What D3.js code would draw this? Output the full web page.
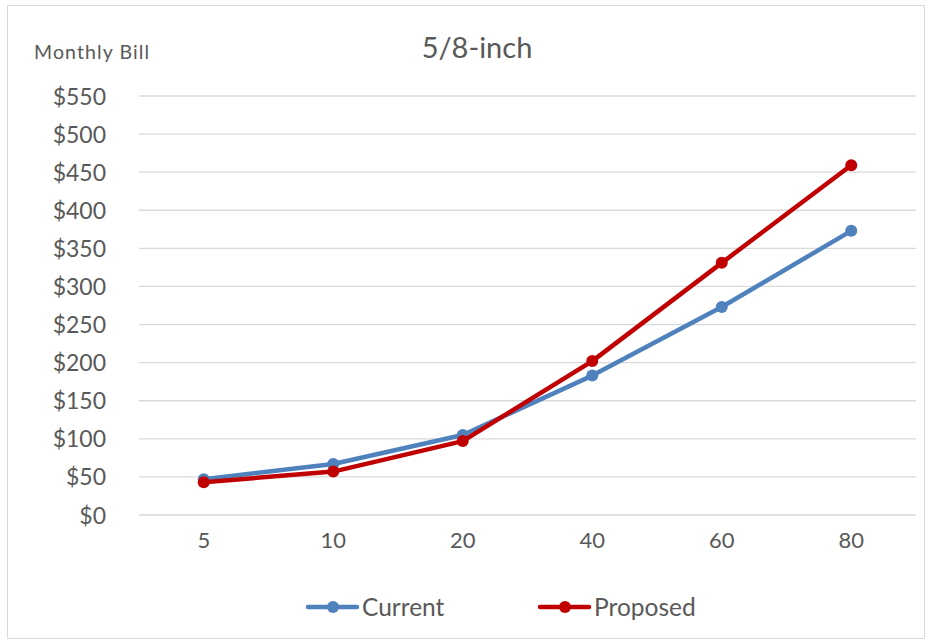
<!DOCTYPE html>
<html>
<head>
<meta charset="utf-8">
<script src="https://cdn.jsdelivr.net/npm/d3@7"></script>
<style>
  html, body { margin: 0; padding: 0; background: #fff; }
  svg text { font-family: Lato, "Open Sans", "Liberation Sans", sans-serif; fill: #595959; }
</style>
</head>
<body>
<svg id="chart" width="930" height="642"></svg>
<script>
// Meter usage levels (category axis)
const categories = ["5", "10", "20", "40", "60", "80"];
// Monthly bill, current rates
const current = [47, 67, 105, 183, 273, 373];
// Monthly bill, proposed rates
const proposed = [43, 57, 97, 202, 331, 459];
// Y axis ticks
const yTicks = [0, 50, 100, 150, 200, 250, 300, 350, 400, 450, 500, 550];

const series = [
  { name: "Current", values: current, color: "#4F81BD" },
  { name: "Proposed", values: proposed, color: "#C00000" }
];

const svg = d3.select("#chart");
const W = 930, H = 642;
const m = { left: 139, right: 14, top: 96, bottom: 127 };

// chart frame
svg.append("rect")
  .attr("x", 7.5).attr("y", 5.5).attr("width", 917).attr("height", 633)
  .attr("fill", "#fff").attr("stroke", "#d9d9d9").attr("stroke-width", 1);

const x = d3.scaleBand().domain(categories).range([m.left, W - m.right]);
const y = d3.scaleLinear().domain([0, 550]).range([H - m.bottom, m.top]);

// gridlines
svg.append("g").selectAll("line").data(yTicks).join("line")
  .attr("x1", m.left).attr("x2", W - m.right)
  .attr("y1", d => y(d)).attr("y2", d => y(d))
  .attr("stroke", "#d9d9d9").attr("stroke-width", 1.3);

// y axis labels
const yAxis = svg.append("g")
  .attr("transform", `translate(${m.left - 33},0)`)
  .call(d3.axisLeft(y).tickValues(yTicks).tickFormat(d => "$" + d).tickSize(0).tickPadding(0));
yAxis.select(".domain").remove();
yAxis.selectAll("text").attr("font-size", 23).attr("dy", "0.35em")
  .style("font-family", "Lato, 'Open Sans', sans-serif").attr("fill", "#595959");

// x axis labels
const xAxis = svg.append("g")
  .attr("transform", `translate(0,${H - m.bottom})`)
  .call(d3.axisBottom(x).tickSize(0).tickPadding(25));
xAxis.select(".domain").remove();
xAxis.selectAll("text").attr("font-size", 22).attr("dy", "0.35em")
  .style("font-family", "Lato, 'Open Sans', sans-serif").attr("fill", "#595959");

// title and axis title
svg.append("text").attr("x", 477).attr("y", 58).attr("text-anchor", "middle")
  .attr("font-size", 29).text("5/8-inch");
svg.append("text").attr("x", 34).attr("y", 59)
  .attr("font-size", 19.5).attr("letter-spacing", 1.1).text("Monthly Bill");

// lines and markers
const cx = (d, i) => x(categories[i]) + x.bandwidth() / 2;
const line = d3.line().x(cx).y(d => y(d));

series.forEach(s => {
  const g = svg.append("g");
  g.append("path").datum(s.values)
    .attr("d", line).attr("fill", "none")
    .attr("stroke", s.color).attr("stroke-width", 4.5)
    .attr("stroke-linejoin", "round").attr("stroke-linecap", "round");
  g.selectAll("circle").data(s.values).join("circle")
    .attr("cx", cx).attr("cy", d => y(d)).attr("r", 6)
    .attr("fill", s.color);
});

// legend
const legendX = [308, 540];
series.forEach((s, i) => {
  const g = svg.append("g").attr("transform", `translate(${legendX[i]},607)`);
  g.append("line").attr("x1", 0).attr("x2", 49).attr("y1", 0).attr("y2", 0)
    .attr("stroke", s.color).attr("stroke-width", 4.5).attr("stroke-linecap", "round");
  g.append("circle").attr("cx", 25).attr("cy", 0).attr("r", 6).attr("fill", s.color);
  g.append("text").attr("x", 54).attr("y", 0).attr("dy", "0.35em")
    .attr("font-size", 24.5).text(s.name);
});
</script>
</body>
</html>
